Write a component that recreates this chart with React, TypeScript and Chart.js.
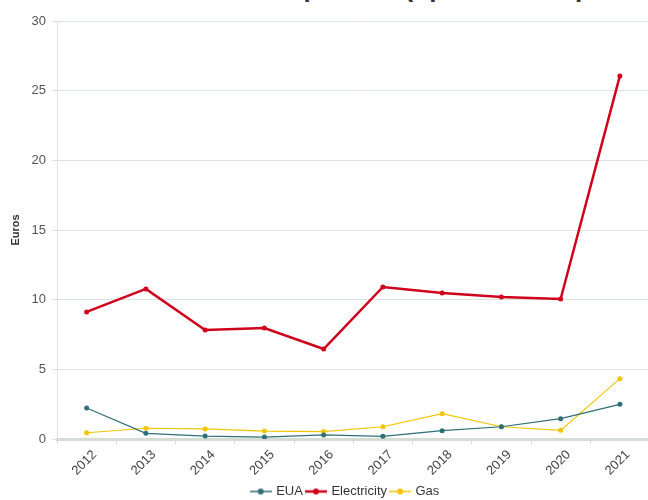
import React, { useEffect, useRef } from "react";
import { Chart, registerables } from "chart.js";

Chart.register(...registerables);

const years = ["2012", "2013", "2014", "2015", "2016", "2017", "2018", "2019", "2020", "2021"];
const euaValues = [2.23, 0.41, 0.21, 0.14, 0.29, 0.19, 0.6, 0.88, 1.46, 2.49];
const electricityValues = [9.12, 10.77, 7.82, 7.97, 6.46, 10.91, 10.48, 10.19, 10.05, 26.06];
const gasValues = [0.45, 0.77, 0.72, 0.57, 0.53, 0.88, 1.82, 0.88, 0.62, 4.33];
const yTicks = [0, 5, 10, 15, 20, 25, 30];
const titleText = "Cost comparison (open market prices, €/MWh)";
const yTitle = "Euros";

const EUA_COLOR = "#2f6f78";
const ELEC_COLOR = "#d0021b";
const GAS_COLOR = "#f2c500";
const FONT = "Arial, 'Liberation Sans', sans-serif";

function makeMarker(color: string, lw: number) {
  const c = document.createElement("canvas");
  c.width = 22;
  c.height = 10;
  const ctx = c.getContext("2d")!;
  ctx.strokeStyle = color;
  ctx.lineWidth = lw;
  ctx.beginPath();
  ctx.moveTo(0, 5);
  ctx.lineTo(22, 5);
  ctx.stroke();
  ctx.fillStyle = color;
  ctx.beginPath();
  ctx.arc(11, 5, 3, 0, Math.PI * 2);
  ctx.fill();
  return c;
}

const shiftLegend = {
  id: "shiftLegend",
  afterLayout(chart: any) {
    if (chart.legend) {
      chart.legend.left += 39;
    }
  },
};

export default function App() {
  const ref = useRef<HTMLCanvasElement | null>(null);
  useEffect(() => {
    if (!ref.current) return;
    const markers = [makeMarker(EUA_COLOR, 1.5), makeMarker(ELEC_COLOR, 2.5), makeMarker(GAS_COLOR, 1.5)];
    const mk = (label: string, data: number[], color: string, bw: number) => ({
      label,
      data,
      borderColor: color,
      backgroundColor: color,
      borderWidth: bw,
      pointRadius: 2.5,
      pointHoverRadius: 2.5,
      pointBorderWidth: 0,
      tension: 0,
    });
    const chart = new Chart(ref.current, {
      type: "line",
      data: {
        labels: years,
        datasets: [
          mk("EUA", euaValues, EUA_COLOR, 1.2),
          mk("Electricity", electricityValues, ELEC_COLOR, 2.5),
          mk("Gas", gasValues, GAS_COLOR, 1.2),
        ],
      },
      plugins: [shiftLegend],
      options: {
        animation: false,
        responsive: true,
        maintainAspectRatio: false,
        layout: { padding: { top: 21, right: 0, left: 0, bottom: 0 } },
        plugins: {
          title: { display: false },
          tooltip: { enabled: false },
          legend: {
            position: "bottom",
            labels: {
              usePointStyle: true,
              pointStyleWidth: 18,
              padding: 4,
              color: "#333",
              font: { family: FONT, size: 13 },
              generateLabels: (ch: any) =>
                ch.data.datasets.map((ds: any, i: number) => ({
                  text: ds.label,
                  fillStyle: ds.borderColor,
                  strokeStyle: ds.borderColor,
                  pointStyle: markers[i],
                  datasetIndex: i,
                  hidden: false,
                  lineWidth: 0,
                  fontColor: "#333",
                })),
            },
          },
        },
        scales: {
          x: {
            type: "category",
            offset: true,
            grid: {
              display: true,
              drawOnChartArea: false,
              drawTicks: true,
              tickLength: 5,
              color: "#d5ddd5",
              offset: true,
            },
            border: { display: true, color: "#d3ddd3", width: 3 },
            ticks: {
              color: "#444",
              maxRotation: 45,
              minRotation: 45,
              padding: 3,
              labelOffset: 8,
              font: { family: FONT, size: 13 },
            },
            afterFit: (s: any) => {
              s.height = 42;
              s.paddingLeft = 0;
              s.paddingRight = 0;
            },
          },
          y: {
            min: 0,
            max: 30,
            afterBuildTicks: (s: any) => {
              s.ticks = yTicks.map((v) => ({ value: v }));
            },
            grid: {
              color: "#dde3dd",
              lineWidth: 1,
              tickLength: 5,
            },
            border: { display: true, color: "#dde3dd", width: 1 },
            ticks: {
              color: "#555",
              padding: 6,
              font: { family: FONT, size: 13 },
            },
            title: {
              display: true,
              text: yTitle,
              color: "#333",
              padding: { top: 9, bottom: 0 },
              font: { family: FONT, size: 11, weight: "bold" },
            },
            afterFit: (s: any) => {
              s.width = 57;
            },
          },
        },
      },
    });
    return () => chart.destroy();
  }, []);

  return (
    <div style={{ position: "absolute", left: 0, top: 0, width: 648, height: 500, overflow: "hidden", background: "#fff" }}>
      <div
        style={{
          position: "absolute",
          left: 185,
          top: -27,
          whiteSpace: "nowrap",
          fontFamily: FONT,
          fontWeight: "bold",
          fontSize: 26,
          color: "#333",
        }}
      >
        {titleText}
      </div>
      <div style={{ position: "absolute", left: 0, top: 0, width: 652, height: 508 }}>
        <canvas ref={ref} />
      </div>
    </div>
  );
}
